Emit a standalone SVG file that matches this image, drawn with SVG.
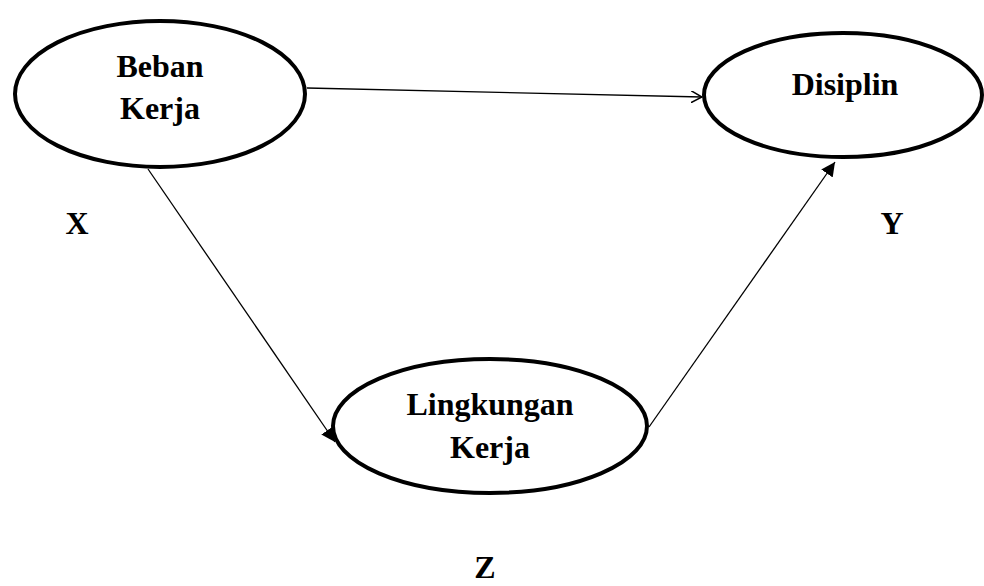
<svg xmlns="http://www.w3.org/2000/svg" width="984" height="586" viewBox="0 0 984 586">
<style>
.node{fill:#fff;stroke:#000;stroke-width:4}
.lbl{font-family:"Liberation Serif","Times New Roman",serif;font-weight:bold;font-size:32px;fill:#000;text-anchor:middle}
.edge{stroke:#000;stroke-width:1.3;fill:none}
</style>
<defs>
<marker id="open" viewBox="0 0 12 12" refX="11" refY="6" markerWidth="12" markerHeight="12" markerUnits="userSpaceOnUse" orient="auto">
<path d="M0,0 L11,6 L0,12" fill="none" stroke="#000" stroke-width="1.5"/>
</marker>
<marker id="fill" viewBox="0 0 12 12" refX="12" refY="6" markerWidth="14" markerHeight="14" markerUnits="userSpaceOnUse" orient="auto">
<path d="M0,0 L12,6 L0,12 z" fill="#000"/>
</marker>
</defs>
<rect width="984" height="586" fill="#fff"/>
<g id="connectors">
<line class="edge" x1="307" y1="88" x2="702" y2="97" marker-end="url(#open)"/>
<line class="edge" x1="148" y1="169" x2="335" y2="442" marker-end="url(#fill)"/>
<line class="edge" x1="649" y1="427" x2="835" y2="162" marker-end="url(#fill)"/>
</g>
<g id="beban">
<ellipse class="node" cx="160" cy="94" rx="145" ry="73"/>
<text class="lbl" x="160" y="77">Beban</text>
<text class="lbl" x="160" y="119">Kerja</text>
</g>
<g id="disiplin">
<ellipse class="node" cx="843" cy="95" rx="139" ry="62"/>
<text class="lbl" x="845" y="95">Disiplin</text>
</g>
<g id="lingkungan">
<ellipse class="node" cx="490" cy="426" rx="157" ry="67"/>
<text class="lbl" x="490" y="415">Lingkungan</text>
<text class="lbl" x="490" y="458">Kerja</text>
</g>
<g id="labels">
<text class="lbl" x="77" y="234">X</text>
<text class="lbl" x="892" y="234">Y</text>
<text class="lbl" x="485" y="578">Z</text>
</g>
</svg>
